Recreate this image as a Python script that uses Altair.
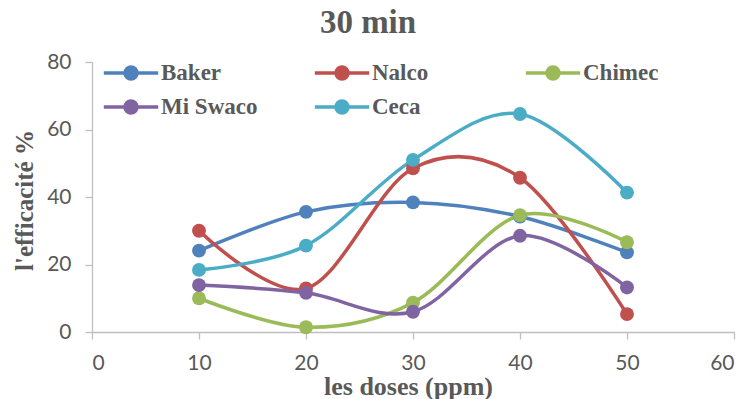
import altair as alt
import pandas as pd

doses = [10, 20, 30, 40, 50]
series = ["Baker", "Nalco", "Chimec", "Mi Swaco", "Ceca"]
baker = [24.1, 35.6, 38.4, 34.2, 23.6]
nalco = [30.0, 12.9, 48.5, 45.7, 5.3]
chimec = [10.0, 1.4, 8.7, 34.6, 26.6]
mi_swaco = [13.9, 11.6, 6.0, 28.5, 13.2]
ceca = [18.4, 25.6, 51.0, 64.6, 41.3]
colors = ["#4F81BD", "#C0504D", "#9BBB59", "#8064A2", "#4BACC6"]
x_ticks = [0, 10, 20, 30, 40, 50, 60]
y_ticks = [0, 20, 40, 60, 80]

rows = []
for name, vals in zip(series, [baker, nalco, chimec, mi_swaco, ceca]):
    for d, v in zip(doses, vals):
        rows.append({"dose": d, "eff": v, "series": name})
df = pd.DataFrame(rows)

GRAY = "#595959"
AXC = "#BFBFBF"
# legend glyph: line with a centred dot (unit = 10 px for symbolSize 400)
SYM = "M-2.72,0L2.72,0M-0.6,0A0.6,0.6,0,1,1,0.6,0A0.6,0.6,0,1,1,-0.6,0Z"

x = alt.X("dose:Q", scale=alt.Scale(domain=[0, 60], nice=False, zero=False),
          axis=alt.Axis(values=x_ticks, title="les doses (ppm)", titleX=316, titleY=62,
                        titleBaseline="alphabetic", titleAlign="center", titleFontSize=26,
                        labelPadding=13, tickSize=7))
y = alt.Y("eff:Q", scale=alt.Scale(domain=[0, 80], nice=False),
          axis=alt.Axis(values=y_ticks, title="l'efficacité %", titleX=-68, titleY=138,
                        titleBaseline="middle", titleAlign="center", titleAngle=-90,
                        labelPadding=14, tickSize=7))
color = alt.Color(
    "series:N", sort=series,
    scale=alt.Scale(domain=series, range=colors),
    legend=alt.Legend(
        title=None, orient="none", legendX=10, legendY=-1, columns=3,
        direction="horizontal",
        gridAlign="all", columnPadding=49, rowPadding=8, padding=0,
        symbolType=SYM, symbolSize=400, symbolStrokeWidth=3.5, symbolOffset=17,
        symbolOpacity=1,
        labelFont="Liberation Serif", labelFontWeight="bold", labelFontSize=23,
        labelColor=GRAY, labelOffset=18,
    ),
)

base = alt.Chart(df).encode(x=x, y=y, color=color, detail="series:N")
lines = base.mark_line(interpolate="cardinal", strokeWidth=3.5)
points = base.mark_point(filled=True, size=193, opacity=1)

chart = (
    alt.layer(lines, points)
    .properties(
        width=642, height=270,
        autosize=alt.AutoSizeParams(type="none"),
        padding={"left": 92, "top": 62, "right": 14, "bottom": 67},
        title=alt.TitleParams("30 min", font="Liberation Serif", fontSize=33,
                              fontWeight="bold", color=GRAY, dx=-45, offset=-15,
                              baseline="alphabetic", anchor="middle"),
    )
    .configure_view(stroke=None)
    .configure_axis(domainColor=AXC, tickColor=AXC, domainWidth=1.3, tickWidth=1.3,
                    labelFont="Lato", labelFontSize=21, labelColor=GRAY,
                    titleFont="Liberation Serif", titleFontSize=25, titleFontWeight="bold",
                    titleColor=GRAY, grid=False)
)

chart.save("out.html", embed_options={"renderer": "svg", "actions": False})
